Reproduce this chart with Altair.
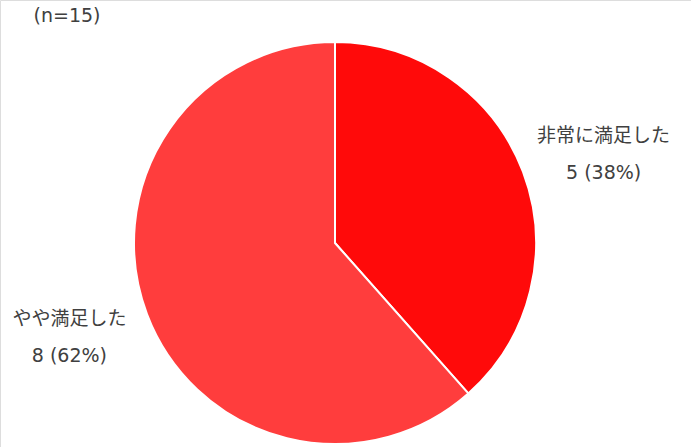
import altair as alt
import pandas as pd

categories = ["非常に満足した", "やや満足した"]
counts = [5, 8]
percents = ["38%", "62%"]
colors = ["#FF0A0A", "#FF3D3D"]
note = "(n=15)"

df = pd.DataFrame({
    "cat": categories,
    "count": counts,
    "order": [0, 1],
    "label": [f"{c}\n{n} ({p})" for c, n, p in zip(categories, counts, percents)],
})
total = sum(counts)

W, H = 691, 447
cx, cy, r = 335, 243, 201
font = "DejaVu Sans, Noto Sans CJK JP"

theta_scale = alt.Scale(domain=[0, total], range=[0, 6.283185307179586])

base = alt.Chart(df).transform_window(
    end="sum(count)", sort=[alt.SortField("order")], frame=[None, 0]
).transform_calculate(
    start="datum.end - datum.count",
    mid="datum.end - datum.count / 2",
)

pie = base.mark_arc(stroke="white", strokeWidth=2).encode(
    theta=alt.Theta("start:Q", scale=theta_scale),
    theta2="end:Q",
    color=alt.Color("cat:N", scale=alt.Scale(domain=categories, range=colors), legend=None),
    x=alt.value(cx), y=alt.value(cy), radius=alt.value(r),
)

def label_layer(cat, dx, dy):
    return base.transform_filter(alt.datum.cat == cat).mark_text(
        font=font, fontSize=19, color="#404040", lineBreak="\n", lineHeight=37,
        align="center", baseline="middle", dx=dx, dy=dy,
    ).encode(
        theta=alt.Theta("mid:Q", scale=theta_scale),
        text="label:N",
        x=alt.value(cx), y=alt.value(cy), radius=alt.value(283),
    )

labels_right = label_layer(categories[0], 4, -7)
labels_left = label_layer(categories[1], -1, -24)

title = alt.Chart(pd.DataFrame({"t": [note]})).mark_text(
    font=font, fontSize=19, color="#404040", align="center", baseline="middle",
).encode(text="t:N", x=alt.value(67), y=alt.value(16))

chart = alt.layer(pie, labels_right, labels_left, title).properties(
    width=W, height=H, padding=0, autosize=alt.AutoSizeParams(type="none"),
).configure_view(stroke=None).configure(background="white")

chart.save("out.html", embed_options={"renderer": "svg", "actions": False})
